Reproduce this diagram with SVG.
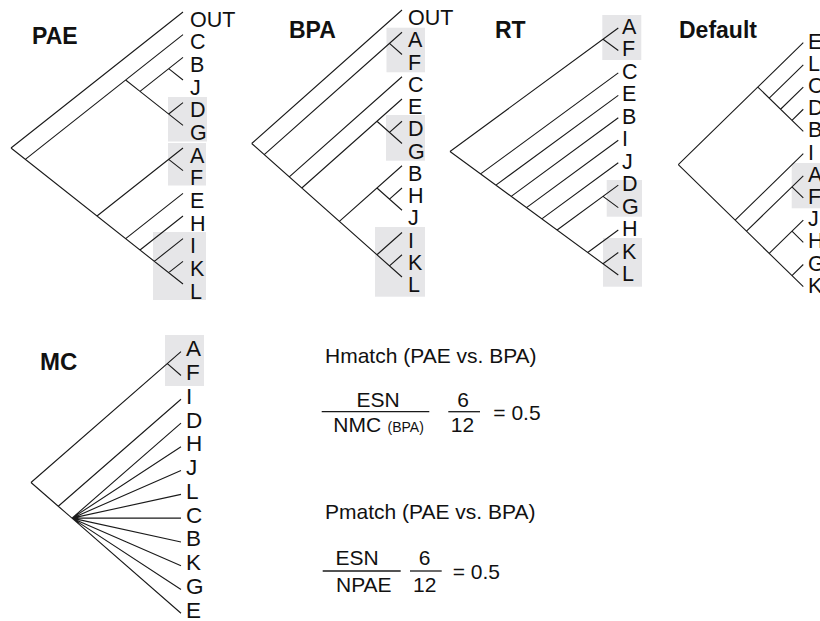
<svg xmlns="http://www.w3.org/2000/svg" width="820" height="621" viewBox="0 0 820 621">
<style>
.bg{fill:#ffffff}
.hl{fill:#e6e6e8}
.br{fill:none;stroke:#1a1a1a;stroke-width:1.1}
.fl{fill:none;stroke:#1a1a1a;stroke-width:1.3}
.lb{font-family:"Liberation Sans",Arial,sans-serif;font-size:21.5px;fill:#111}
.lbm{font-family:"Liberation Sans",Arial,sans-serif;font-size:22.5px;fill:#111}
.tt{font-family:"Liberation Sans",Arial,sans-serif;font-size:23px;font-weight:bold;fill:#111}
.ttm{font-family:"Liberation Sans",Arial,sans-serif;font-size:24px;font-weight:bold;fill:#111}
.fm{font-family:"Liberation Sans",Arial,sans-serif;font-size:21px;fill:#111}
.fs{font-family:"Liberation Sans",Arial,sans-serif;font-size:14px;fill:#111}
</style>
<rect class="bg" x="0" y="0" width="820" height="621"/>

<!-- highlight boxes -->
<g id="highlights">
<rect class="hl" x="168" y="97" width="39" height="44.5"/>
<rect class="hl" x="168" y="143" width="38" height="42.5"/>
<rect class="hl" x="153" y="232" width="53" height="68"/>
<rect class="hl" x="386.5" y="27.7" width="38.5" height="44.6"/>
<rect class="hl" x="386" y="115" width="39" height="45.7"/>
<rect class="hl" x="375" y="227" width="50" height="69.7"/>
<rect class="hl" x="602.3" y="15" width="39" height="45"/>
<rect class="hl" x="606.7" y="180" width="35.3" height="36.7"/>
<rect class="hl" x="603" y="238" width="39" height="48.7"/>
<rect class="hl" x="791.7" y="163" width="28.3" height="45.3"/>
<rect class="hl" x="165" y="335" width="39" height="51"/>
</g>

<!-- connectors -->
<g id="connectors">
<path id="PAE-branches" class="br" d="M11,148 L183,12 M11,148 L183,284 M25.33,159.33 L183,34.67 M125.67,80 L140,91.33 M140,91.33 L183,57.33 M168.67,68.67 L183,80 M140,91.33 L183,125.33 M168.67,114 L183,102.67 M97,216 L183,148 M168.67,159.33 L183,170.67 M125.67,238.67 L183,193.33 M140,250 L183,216 M154.33,261.33 L183,238.67 M168.67,272.67 L183,261.33"/>
<path id="BPA-branches" class="br" d="M251.7,143.5 L402,10 M251.7,143.5 L402,277 M264.22,154.63 L402,32.25 M389.47,43.38 L402,54.5 M289.27,176.88 L402,76.75 M301.8,188 L402,99 M376.95,121.25 L402,143.5 M389.47,132.38 L402,121.25 M339.37,221.38 L402,165.75 M376.95,188 L402,210.25 M389.47,199.13 L402,188 M376.95,254.75 L402,232.5 M389.47,265.88 L402,254.75"/>
<path id="RT-branches" class="br" d="M450,151.48 L618.3,28 M603,39.23 L618.3,50.45 M450,151.48 L618.3,274.95 M480.6,173.93 L618.3,72.9 M495.9,185.15 L618.3,95.35 M511.2,196.38 L618.3,117.8 M526.5,207.6 L618.3,140.25 M541.8,218.83 L618.3,162.7 M557.1,230.05 L618.3,185.15 M603,196.38 L618.3,207.6 M587.7,252.5 L618.3,230.05 M603,263.73 L618.3,252.5"/>
<path id="Default-branches" class="br" d="M678.3,164.69 L803.3,42.7 M757.85,87.06 L803.3,131.42 M769.2,98.15 L803.3,64.88 M780.57,109.24 L803.3,87.06 M791.94,120.33 L803.3,109.24 M678.3,164.69 L803.3,286.68 M735.12,220.14 L803.3,153.6 M746.48,231.23 L803.3,175.78 M791.94,186.87 L803.3,197.96 M769.2,253.41 L803.3,220.14 M791.94,231.23 L803.3,242.32 M791.94,275.59 L803.3,264.5"/>
<path id="MC-branches" class="br" d="M31,482.49 L181,351.7 M167.36,363.59 L181,375.48 M31,482.49 L58.27,506.27 M58.27,506.27 L181,399.26 M58.27,506.27 L72,518.16 M72,518.16 L181,423.04 M72,518.16 L181,446.82 M72,518.16 L181,470.6 M72,518.16 L181,494.38 M72,518.16 L181,518.16 M72,518.16 L181,541.94 M72,518.16 L181,565.72 M72,518.16 L181,589.5 M72,518.16 L181,613.28"/>
</g>

<!-- titles -->
<g id="titles">
<text class="tt" x="32" y="43.5">PAE</text>
<text class="tt" x="289" y="38">BPA</text>
<text class="tt" x="495" y="38">RT</text>
<text class="tt" x="679" y="38">Default</text>
<text class="ttm" x="40" y="370">MC</text>
</g>

<!-- PAE leaves -->
<g id="PAE-leaves" class="lb">
<g id="pae-OUT"><text x="190" y="26.5">OUT</text></g>
<g id="pae-C"><text x="190" y="49.17">C</text></g>
<g id="pae-B"><text x="190" y="71.83">B</text></g>
<g id="pae-J"><text x="190" y="94.5">J</text></g>
<g id="pae-D"><text x="190" y="117.17">D</text></g>
<g id="pae-G"><text x="190" y="139.83">G</text></g>
<g id="pae-A"><text x="190" y="162.5">A</text></g>
<g id="pae-F"><text x="190" y="185.17">F</text></g>
<g id="pae-E"><text x="190" y="207.83">E</text></g>
<g id="pae-H"><text x="190" y="230.5">H</text></g>
<g id="pae-I"><text x="190" y="253.17">I</text></g>
<g id="pae-K"><text x="190" y="275.83">K</text></g>
<g id="pae-L"><text x="190" y="298.5">L</text></g>
</g>

<!-- BPA leaves -->
<g id="BPA-leaves" class="lb">
<g id="bpa-OUT"><text x="408" y="25">OUT</text></g>
<g id="bpa-A"><text x="408" y="47.25">A</text></g>
<g id="bpa-F"><text x="408" y="69.5">F</text></g>
<g id="bpa-C"><text x="408" y="91.75">C</text></g>
<g id="bpa-E"><text x="408" y="114">E</text></g>
<g id="bpa-D"><text x="408" y="136.25">D</text></g>
<g id="bpa-G"><text x="408" y="158.5">G</text></g>
<g id="bpa-B"><text x="408" y="180.75">B</text></g>
<g id="bpa-H"><text x="408" y="203">H</text></g>
<g id="bpa-J"><text x="408" y="225.25">J</text></g>
<g id="bpa-I"><text x="408" y="247.5">I</text></g>
<g id="bpa-K"><text x="408" y="269.75">K</text></g>
<g id="bpa-L"><text x="408" y="292">L</text></g>
</g>

<!-- RT leaves -->
<g id="RT-leaves" class="lb">
<g id="rt-A"><text x="622" y="34">A</text></g>
<g id="rt-F"><text x="622" y="56.45">F</text></g>
<g id="rt-C"><text x="622" y="78.9">C</text></g>
<g id="rt-E"><text x="622" y="101.35">E</text></g>
<g id="rt-B"><text x="622" y="123.8">B</text></g>
<g id="rt-I"><text x="622" y="146.25">I</text></g>
<g id="rt-J"><text x="622" y="168.7">J</text></g>
<g id="rt-D"><text x="622" y="191.15">D</text></g>
<g id="rt-G"><text x="622" y="213.6">G</text></g>
<g id="rt-H"><text x="622" y="236.05">H</text></g>
<g id="rt-K"><text x="622" y="258.5">K</text></g>
<g id="rt-L"><text x="622" y="280.95">L</text></g>
</g>

<!-- Default leaves (cut off by the right edge, as in the reference) -->
<g id="Default-leaves" class="lb">
<g id="def-E"><text x="808" y="48.7">E</text></g>
<g id="def-L"><text x="808" y="70.88">L</text></g>
<g id="def-C"><text x="808" y="93.06">C</text></g>
<g id="def-D"><text x="808" y="115.24">D</text></g>
<g id="def-B"><text x="808" y="137.42">B</text></g>
<g id="def-I"><text x="808" y="159.6">I</text></g>
<g id="def-A"><text x="808" y="181.78">A</text></g>
<g id="def-F"><text x="808" y="203.96">F</text></g>
<g id="def-J"><text x="808" y="226.14">J</text></g>
<g id="def-H"><text x="808" y="248.32">H</text></g>
<g id="def-G"><text x="808" y="270.5">G</text></g>
<g id="def-K"><text x="808" y="292.68">K</text></g>
</g>

<!-- MC leaves -->
<g id="MC-leaves" class="lbm">
<g id="mc-A"><text x="186" y="356.2">A</text></g>
<g id="mc-F"><text x="186" y="379.98">F</text></g>
<g id="mc-I"><text x="186" y="403.76">I</text></g>
<g id="mc-D"><text x="186" y="427.54">D</text></g>
<g id="mc-H"><text x="186" y="451.32">H</text></g>
<g id="mc-J"><text x="186" y="475.1">J</text></g>
<g id="mc-L"><text x="186" y="498.88">L</text></g>
<g id="mc-C"><text x="186" y="522.66">C</text></g>
<g id="mc-B"><text x="186" y="546.44">B</text></g>
<g id="mc-K"><text x="186" y="570.22">K</text></g>
<g id="mc-G"><text x="186" y="594">G</text></g>
<g id="mc-E"><text x="186" y="617.78">E</text></g>
</g>

<!-- formulas -->
<g id="hmatch">
<text class="fm" x="325" y="363.3">Hmatch (PAE vs. BPA)</text>
<text class="fm" x="378" y="406.7" text-anchor="middle">ESN</text>
<line class="fl" x1="321.7" y1="411.7" x2="429.3" y2="411.7"/>
<text class="fm" x="333.3" y="431.7">NMC</text>
<text class="fs" x="387.5" y="431.7">(BPA)</text>
<text class="fm" x="463" y="406.7" text-anchor="middle">6</text>
<line class="fl" x1="448.3" y1="411.7" x2="480" y2="411.7"/>
<text class="fm" x="462.5" y="431.7" text-anchor="middle">12</text>
<text class="fm" x="493.3" y="420">= 0.5</text>
</g>
<g id="pmatch">
<text class="fm" x="325" y="518.5">Pmatch (PAE vs. BPA)</text>
<text class="fm" x="357.2" y="565" text-anchor="middle">ESN</text>
<line class="fl" x1="322.7" y1="571" x2="400.7" y2="571"/>
<text class="fm" x="363.8" y="591.7" text-anchor="middle">NPAE</text>
<text class="fm" x="424.7" y="565" text-anchor="middle">6</text>
<line class="fl" x1="410" y1="571" x2="441.7" y2="571"/>
<text class="fm" x="424.7" y="591.7" text-anchor="middle">12</text>
<text class="fm" x="452.7" y="579.3">= 0.5</text>
</g>
</svg>
